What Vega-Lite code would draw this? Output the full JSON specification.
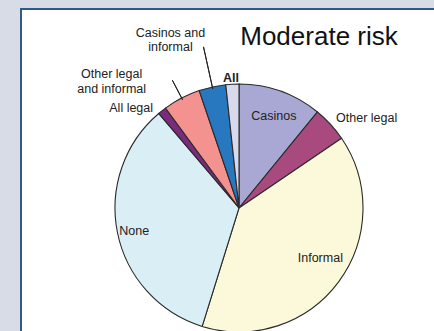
{
  "$schema": "https://vega.github.io/schema/vega-lite/v6.json",
  "autosize": {"type": "none"},
  "width": 436,
  "height": 398,
  "padding": {"left": 21, "top": 9, "right": -23, "bottom": -76},
  "background": "#D7DCE7",
  "view": {"fill": "#FFFFFF", "stroke": "#2F5A8C", "strokeWidth": 2},
  "config": {
    "view": {"fill": "#FFFFFF", "stroke": "#2F5A8C", "strokeWidth": 2},
    "style": {"cell": {"fill": "#FFFFFF", "stroke": "#2F5A8C", "strokeWidth": 2}},
    "text": {"font": "Liberation Sans", "fontSize": 12.5, "color": "#222222"}
  },
  "data": {
    "values": [
      {"idx": 1, "category": "Casinos", "label": "Casinos", "share": 10.9},
      {"idx": 2, "category": "Other legal", "label": "Other legal", "share": 4.6},
      {"idx": 3, "category": "Informal", "label": "Informal", "share": 39.3},
      {"idx": 4, "category": "None", "label": "None", "share": 34.0},
      {"idx": 5, "category": "All legal", "label": "All legal", "share": 1.1},
      {"idx": 6, "category": "Other legal and informal", "label": "Other legal\nand informal", "share": 4.9},
      {"idx": 7, "category": "Casinos and informal", "label": "Casinos and\ninformal", "share": 3.5},
      {"idx": 8, "category": "All", "label": "All", "share": 1.7}
    ]
  },
  "layer": [
    {
      "mark": {"type": "rule", "opacity": 0},
      "encoding": {"x": {"datum": 0, "type": "quantitative", "axis": null}}
    },
    {
      "mark": {"type": "arc", "radius": 124, "stroke": "#2a2a2a", "strokeWidth": 1.1},
      "encoding": {
        "theta": {"field": "share", "type": "quantitative", "stack": true},
        "order": {"field": "idx", "type": "ordinal"},
        "color": {
          "field": "category",
          "type": "nominal",
          "legend": null,
          "scale": {
            "domain": ["Casinos", "Other legal", "Informal", "None", "All legal", "Other legal and informal", "Casinos and informal", "All"],
            "range": ["#A9A8D4", "#A84A7E", "#FBF9D9", "#DAEEF5", "#7A2B7C", "#F4928F", "#2878C0", "#D9D9EE"]
          }
        }
      }
    },
    {
      "mark": {"type": "arc", "radius": 165, "radius2": 122, "padAngle": 1.2, "fill": null, "stroke": "#222222", "strokeWidth": 1},
      "encoding": {
        "theta": {"field": "share", "type": "quantitative", "stack": true},
        "order": {"field": "idx", "type": "ordinal"},
        "strokeOpacity": {"condition": {"test": "datum.idx == 7", "value": 1}, "value": 0}
      }
    },
    {
      "mark": {"type": "arc", "radius": 144, "radius2": 122, "padAngle": 1.2, "fill": null, "stroke": "#222222", "strokeWidth": 1},
      "encoding": {
        "theta": {"field": "share", "type": "quantitative", "stack": true},
        "order": {"field": "idx", "type": "ordinal"},
        "strokeOpacity": {"condition": {"test": "datum.idx == 6", "value": 1}, "value": 0}
      }
    },
    {
      "mark": {"type": "text", "radius": 98, "dx": 2, "dy": 0, "lineBreak": "\n"},
      "encoding": {
        "theta": {"field": "share", "type": "quantitative", "stack": true},
        "order": {"field": "idx", "type": "ordinal"},
        "text": {"condition": {"test": "datum.idx == 1", "field": "label"}, "value": ""}
      }
    },
    {
      "mark": {"type": "text", "radius": 150, "dx": 17, "dy": 11, "lineBreak": "\n"},
      "encoding": {
        "theta": {"field": "share", "type": "quantitative", "stack": true},
        "order": {"field": "idx", "type": "ordinal"},
        "text": {"condition": {"test": "datum.idx == 2", "field": "label"}, "value": ""}
      }
    },
    {
      "mark": {"type": "text", "radius": 95, "dx": 5, "dy": -7, "lineBreak": "\n"},
      "encoding": {
        "theta": {"field": "share", "type": "quantitative", "stack": true},
        "order": {"field": "idx", "type": "ordinal"},
        "text": {"condition": {"test": "datum.idx == 3", "field": "label"}, "value": ""}
      }
    },
    {
      "mark": {"type": "text", "radius": 107, "dx": 0, "dy": 2, "lineBreak": "\n"},
      "encoding": {
        "theta": {"field": "share", "type": "quantitative", "stack": true},
        "order": {"field": "idx", "type": "ordinal"},
        "text": {"condition": {"test": "datum.idx == 4", "field": "label"}, "value": ""}
      }
    },
    {
      "mark": {"type": "text", "radius": 140, "dx": -21, "dy": 10, "lineBreak": "\n"},
      "encoding": {
        "theta": {"field": "share", "type": "quantitative", "stack": true},
        "order": {"field": "idx", "type": "ordinal"},
        "text": {"condition": {"test": "datum.idx == 5", "field": "label"}, "value": ""}
      }
    },
    {
      "mark": {"type": "text", "radius": 150, "dx": -58, "dy": -1, "lineBreak": "\n", "lineHeight": 15},
      "encoding": {
        "theta": {"field": "share", "type": "quantitative", "stack": true},
        "order": {"field": "idx", "type": "ordinal"},
        "text": {"condition": {"test": "datum.idx == 6", "field": "label"}, "value": ""}
      }
    },
    {
      "mark": {"type": "text", "radius": 170, "dx": -32, "dy": -9, "lineBreak": "\n", "lineHeight": 14},
      "encoding": {
        "theta": {"field": "share", "type": "quantitative", "stack": true},
        "order": {"field": "idx", "type": "ordinal"},
        "text": {"condition": {"test": "datum.idx == 7", "field": "label"}, "value": ""}
      }
    },
    {
      "mark": {"type": "text", "radius": 131, "dx": -1, "dy": 1, "lineBreak": "\n", "fontWeight": "bold"},
      "encoding": {
        "theta": {"field": "share", "type": "quantitative", "stack": true},
        "order": {"field": "idx", "type": "ordinal"},
        "text": {"condition": {"test": "datum.idx == 8", "field": "label"}, "value": ""}
      }
    },
    {
      "data": {"values": [{"title": "Moderate risk"}]},
      "mark": {"type": "text", "dx": 80, "dy": -163, "align": "center", "baseline": "alphabetic", "fontSize": 26, "color": "#111111"},
      "encoding": {"text": {"field": "title"}}
    }
  ]
}
